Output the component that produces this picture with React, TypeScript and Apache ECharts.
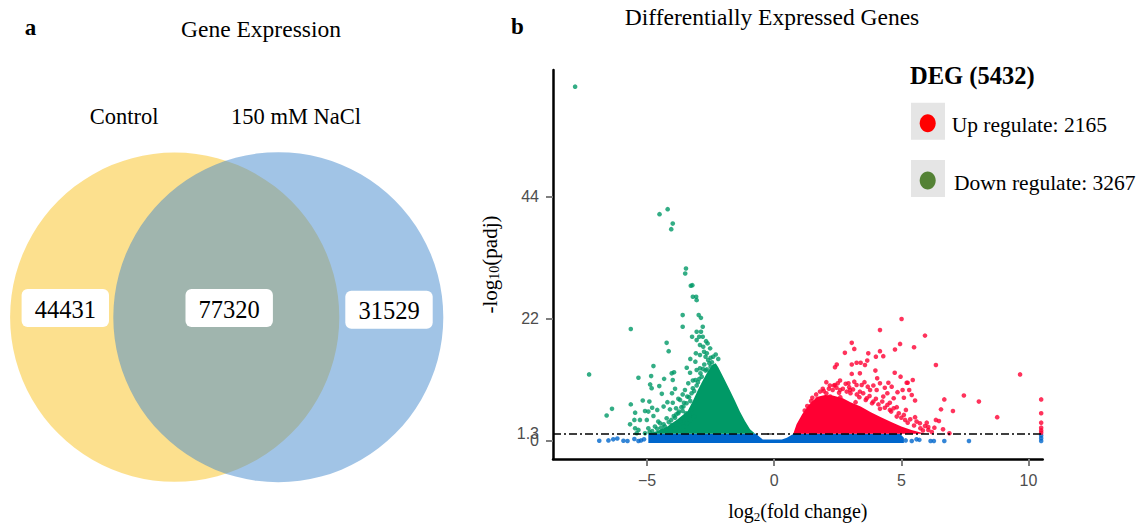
import React, { useEffect, useRef } from 'react';
import * as echarts from 'echarts';

const SERIF = "'Liberation Serif', 'Times New Roman', serif";
const SANS = "'Liberation Sans', Arial, sans-serif";

// ---------- data ----------
const vennSets = ['Control', '150 mM NaCl'];
const vennCounts = [44431, 77320, 31529]; // only Control, shared, only NaCl

const degUp = 2165;
const degDown = 3267;

const xTicks = [-5, 0, 5, 10];
const yTicks = [0, 22, 44];
const padjCut = 1.3; // threshold, also shown as its own y tick

// sparse down-regulated genes (log2FC, -log10 padj)
const downPoints: number[][] = [
  [-7.83, 63.9], [-4.51, 40.9], [-4.19, 41.8], [-3.99, 39.2], [-4.05, 38.2],
  [-3.47, 31.1], [-3.5, 30.2], [-3.28, 28.0], [-3.22, 28.1],
  [-3.2, 26.0], [-3.07, 26.0], [-3.05, 25.4],
  [-3.6, 22.7], [-2.97, 22.7], [-2.88, 22.2],
  [-5.64, 20.2], [-3.6, 20.6], [-2.81, 20.6],
  [-3.05, 19.7], [-2.88, 19.7],
  [-3.23, 18.8], [-2.95, 18.8], [-2.81, 18.8],
  [-4.23, 17.7], [-4.15, 16.2],
  [-3.05, 18.2], [-2.92, 17.3], [-2.79, 17.0], [-2.68, 18.0], [-2.62, 17.6],
  [-3.08, 15.8], [-2.92, 15.5], [-2.76, 16.1], [-2.65, 15.8], [-2.52, 16.7],
  [-7.28, 12.0],
  [-4.75, 13.5], [-5.34, 11.4], [-4.84, 11.7], [-4.88, 10.2],
  [-4.03, 12.2], [-3.94, 12.4], [-3.99, 11.0],
  [-3.44, 13.2], [-3.31, 12.3], [-3.05, 12.8], [-2.92, 13.1],
  [-4.82, 9.5], [-5.17, 7.3], [-4.91, 7.1], [-4.52, 9.9], [-4.42, 8.5], [-4.33, 11.2],
  [-4.02, 8.6], [-3.99, 6.9], [-3.77, 7.6], [-3.51, 9.2], [-3.38, 10.4], [-3.42, 8.0],
  [-5.64, 6.6], [-6.38, 5.8], [-6.59, 4.6],
  [-5.47, 5.1], [-5.5, 3.8], [-5.67, 3.0], [-5.47, 2.3], [-5.34, 2.0],
  [-5.08, 5.4], [-5.01, 3.8], [-4.75, 4.5], [-4.95, 2.3], [-4.69, 2.6], [-4.56, 3.5], [-4.23, 4.1],
  [-4.1, 5.7], [-3.86, 5.9], [-3.7, 7.4], [-3.57, 6.2], [-3.77, 5.0], [-3.47, 5.0],
  [-4.49, 3.2], [-4.3, 2.6], [-4.03, 2.9], [-3.83, 2.3], [-3.57, 2.6], [-3.44, 3.2], [-3.31, 3.8],
  [-5.41, 1.4], [-5.08, 1.4], [-5.28, 3.8], [-4.95, 5.3],
  [-3.2, 9.5], [-3.1, 11.0], [-2.9, 12.2], [-2.75, 13.8], [-2.6, 14.6], [-2.5, 15.0],
  [-2.45, 14.2], [-2.7, 12.7], [-3.0, 10.6], [-3.3, 7.2], [-3.6, 5.4], [-3.9, 4.2],
  [-2.55, 14.0], [-2.4, 15.2], [-2.3, 15.6], [-2.2, 14.8], [-2.5, 13.4], [-2.65, 12.9],
  [-2.8, 13.0], [-2.85, 11.6], [-2.95, 11.2], [-3.05, 10.0], [-3.15, 9.0], [-3.25, 8.6],
  [-3.35, 7.9], [-3.45, 6.8], [-3.55, 6.9], [-3.65, 6.1], [-3.75, 5.3], [-3.85, 4.8],
  [-3.95, 4.5], [-4.05, 3.8], [-4.15, 3.4], [-4.35, 3.0], [-4.45, 2.4], [-4.6, 2.2],
  [-4.8, 1.8], [-4.9, 1.6], [-3.1, 14.3], [-3.3, 14.8], [-2.7, 15.2], [-3.2, 10.9],
  [-3.6, 8.4], [-3.9, 9.4], [-4.2, 7.0], [-4.35, 6.2], [-4.6, 5.6], [-4.8, 6.0],
  [-3.25, 5.7], [-3.15, 4.4], [-3.35, 4.8], [-3.7, 3.5], [-4.1, 1.9], [-4.4, 1.8],
];

// sparse up-regulated genes
const upPoints: number[][] = [
  [5.01, 22.0], [4.16, 20.0], [5.93, 19.0], [4.95, 17.5], [5.5, 16.9], [3.05, 17.7], [3.15, 16.6],
  [2.78, 15.9], [3.7, 15.8], [4.16, 16.2], [4.29, 15.3], [4.0, 15.2], [4.75, 16.5],
  [2.46, 13.8], [2.39, 13.3], [3.05, 13.8], [3.24, 14.1], [3.4, 14.1], [3.57, 13.7], [3.66, 14.5],
  [6.36, 13.7], [9.67, 12.0],
  [3.98, 12.7], [4.05, 11.3], [3.05, 12.1], [3.37, 12.2],
  [4.74, 12.3], [4.97, 11.6], [5.21, 10.5], [5.45, 11.0],
  [2.59, 10.9], [2.81, 10.3], [2.95, 9.7], [3.15, 10.7],
  [1.91, 9.4], [2.19, 10.0], [2.35, 10.0],
  [5.31, 9.2], [5.41, 8.3], [5.54, 7.3],
  [6.69, 7.5], [7.46, 8.2], [8.05, 7.1], [8.77, 4.3], [7.03, 5.4], [6.56, 5.7], [6.48, 3.6],
  [6.64, 2.1], [6.89, 1.4], [6.0, 3.3], [6.06, 2.5],
  [2.39, 10.1], [2.92, 10.4], [3.24, 10.1], [3.44, 10.1], [3.68, 9.8], [4.16, 10.4], [4.49, 10.5],
  [4.62, 9.8], [5.25, 10.5], [5.05, 9.2], [4.45, 8.6],
  [2.59, 9.2], [2.98, 9.2], [3.37, 8.9], [3.77, 9.2], [4.03, 9.2], [3.64, 7.7], [3.9, 7.1],
  [4.29, 8.0], [4.55, 6.9], [4.82, 6.1], [4.16, 5.8], [4.55, 5.6], [4.82, 4.4], [5.18, 5.6],
  [5.15, 3.8], [5.54, 4.3], [5.73, 3.2], [5.93, 2.7], [6.06, 2.0], [6.36, 3.8],
  [1.5, 7.8], [1.65, 8.4], [1.8, 8.9], [1.95, 9.0], [2.05, 8.6], [2.15, 9.4], [2.3, 9.2],
  [2.45, 9.6], [2.55, 8.7], [2.7, 9.4], [2.85, 8.9], [3.0, 8.6], [3.1, 9.3], [3.25, 8.4],
  [3.35, 7.9], [3.5, 8.6], [3.6, 7.4], [3.75, 8.1], [3.85, 6.8], [4.0, 7.6], [4.1, 6.6],
  [4.25, 7.1], [4.35, 6.0], [4.45, 6.5], [4.6, 5.3], [4.7, 5.9], [4.9, 5.0], [5.0, 4.2],
  [5.1, 4.7], [5.25, 3.3], [5.35, 3.9], [5.5, 2.8], [5.6, 3.5], [5.75, 2.3], [5.85, 1.9],
  [6.2, 1.6], [6.3, 2.4], [2.2, 8.0], [2.6, 7.9], [3.2, 7.0], [1.7, 7.6], [1.3, 6.3],
  [1.45, 7.2], [1.2, 5.5], [2.05, 10.6], [2.5, 10.4], [3.55, 10.6], [3.9, 10.0], [4.35, 9.6],
  [4.85, 8.8], [5.1, 7.8], [4.7, 7.7],
  [10.5, 7.5], [10.5, 5.0], [10.5, 3.3], [10.5, 2.4], [10.5, 1.9], [10.5, 1.5],
];

// sparse non-significant genes
const nsPoints: number[][] = [
  [-6.88, 0.05], [-6.52, 0.1], [-6.33, 0.3], [-6.17, 0.45], [-5.93, 0.05], [-5.77, 0.0],
  [-5.5, 0.35], [-5.34, 0.0], [-5.24, 0.1], [-5.12, 0.3],
  [5.17, 0.1], [5.41, 0.0], [5.6, 0.3], [5.71, 0.2], [6.15, 0.0], [6.28, 0.0], [6.69, 0.0], [7.66, 0.0],
  [10.5, 1.0], [10.5, 0.5], [10.5, 0.0],
];

// outlines of the saturated point clouds
const downCore: number[][] = [
  [-4.95, 1.3], [-4.6, 1.8], [-4.2, 2.6], [-3.8, 3.9], [-3.4, 5.4], [-3.2, 7.2], [-3.0, 9.2],
  [-2.8, 11.0], [-2.6, 12.6], [-2.42, 13.8], [-2.3, 14.0], [-2.2, 13.3], [-2.0, 11.5],
  [-1.75, 9.2], [-1.55, 7.3], [-1.35, 5.3], [-1.15, 3.6], [-0.95, 2.1], [-0.75, 1.3],
];
const upCore: number[][] = [
  [0.75, 1.3], [0.88, 3.0], [1.1, 4.8], [1.34, 6.4], [1.55, 7.4], [1.75, 8.0], [2.0, 8.3],
  [2.3, 8.2], [2.7, 7.7], [3.0, 7.0], [3.4, 6.2], [3.8, 5.2], [4.2, 4.3], [4.6, 3.4],
  [5.0, 2.6], [5.4, 2.0], [5.8, 1.5], [6.0, 1.3],
];
const nsCore: number[][] = [
  [-4.95, 1.3], [-0.72, 1.3], [-0.58, 0.75], [-0.45, 0.25], [0.3, 0.25], [0.5, 0.6], [0.68, 1.1],
  [0.78, 1.3], [4.95, 1.3], [5.1, 0.6], [5.1, -0.35], [-4.95, -0.35],
];

// ---------- styling ----------
const RED = '#ff0033';
const GREEN = '#009966';
const BLUE = '#0066cc';

function cloud(points: number[][], color: string, z: number) {
  return {
    type: 'custom',
    coordinateSystem: 'cartesian2d',
    clip: true,
    silent: true,
    z,
    data: [points[0]],
    renderItem: (_p: any, api: any) => ({
      type: 'polygon',
      shape: { points: points.map((p) => api.coord(p)) },
      style: { fill: color },
    }),
  };
}

function dots(points: number[][], color: string, z: number, extra: any = {}) {
  return {
    type: 'scatter',
    data: points,
    symbol: 'circle',
    symbolSize: 4.6,
    itemStyle: { color },
    silent: true,
    clip: true,
    z,
    ...extra,
  };
}

const yLabelStyle = {
  hideOverlap: false,
  showMinLabel: true,
  showMaxLabel: true,
  color: '#4d4d4d',
  fontFamily: SANS,
  fontSize: 16,
  margin: 14,
  formatter: (v: number) => String(v),
};

function buildOption() {
  const graphic: any[] = [];
  // panel labels & titles
  graphic.push({ type: 'text', x: 30.5, y: 27, style: { text: 'a', fontFamily: SERIF, fontWeight: 'bold', fontSize: 23, fill: '#000', align: 'center', verticalAlign: 'middle' } });
  graphic.push({ type: 'text', x: 261, y: 29, style: { text: 'Gene Expression', fontFamily: SERIF, fontSize: 23.5, fill: '#000', align: 'center', verticalAlign: 'middle' } });
  graphic.push({ type: 'text', x: 517.5, y: 26, style: { text: 'b', fontFamily: SERIF, fontWeight: 'bold', fontSize: 23, fill: '#000', align: 'center', verticalAlign: 'middle' } });
  graphic.push({ type: 'text', x: 772, y: 17, style: { text: 'Differentially Expressed Genes', fontFamily: SERIF, fontSize: 23.5, fill: '#000', align: 'center', verticalAlign: 'middle' } });

  // venn
  graphic.push({ type: 'circle', shape: { cx: 174.7, cy: 317.2, r: 164.6 }, style: { fill: 'rgba(249,193,29,0.5)' }, z: 1 });
  graphic.push({ type: 'circle', shape: { cx: 278.3, cy: 317.2, r: 165 }, style: { fill: 'rgba(67,137,205,0.5)' }, z: 2 });
  graphic.push({ type: 'text', x: 124, y: 116, style: { text: vennSets[0], fontFamily: SERIF, fontSize: 22.5, fill: '#000', align: 'center', verticalAlign: 'middle' } });
  graphic.push({ type: 'text', x: 296, y: 116, style: { text: vennSets[1], fontFamily: SERIF, fontSize: 22.5, fill: '#000', align: 'center', verticalAlign: 'middle' } });
  const boxCenters = [[65.3, 308], [229.2, 308], [389, 309.7]];
  vennCounts.forEach((v, i) => {
    const [cx, cy] = boxCenters[i];
    graphic.push({ type: 'rect', shape: { x: cx - 43.7, y: cy - 19, width: 87.4, height: 38, r: 6 }, style: { fill: '#fff' }, z: 3 });
    graphic.push({ type: 'text', x: cx, y: cy + 1, z: 4, style: { text: String(v), fontFamily: SERIF, fontSize: 24.5, fill: '#000', align: 'center', verticalAlign: 'middle' } });
  });

  // DEG legend
  graphic.push({ type: 'text', x: 910, y: 75, style: { text: `DEG (${degUp + degDown})`, fontFamily: SERIF, fontWeight: 'bold', fontSize: 24.5, fill: '#000', align: 'left', verticalAlign: 'middle' } });
  const legendRows = [
    { y: 102.7, color: '#ff0000', text: `Up regulate: ${degUp}`, tx: 951.7 },
    { y: 160, color: '#548235', text: `Down regulate: ${degDown}`, tx: 954 },
  ];
  legendRows.forEach((r) => {
    graphic.push({ type: 'rect', shape: { x: 911, y: r.y, width: 34, height: 37 }, style: { fill: '#e5e5e5' } });
    graphic.push({ type: 'ellipse', shape: { cx: 927.7, cy: r.y + 20.5, rx: 8, ry: 9 }, style: { fill: r.color } });
    graphic.push({ type: 'text', x: r.tx, y: r.y + 22.5, style: { text: r.text, fontFamily: SERIF, fontSize: 21.5, fill: '#000', align: 'left', verticalAlign: 'middle' } });
  });

  return {
    animation: false,
    backgroundColor: '#ffffff',
    grid: { left: 553, top: 70, width: 489.7, height: 389, containLabel: false, outerBoundsMode: 'none' },
    xAxis: {
      type: 'value',
      min: -8.7,
      max: 10.56,
      splitLine: { show: false },
      axisLine: { show: true, onZero: false, lineStyle: { color: '#000', width: 2.5 } },
      axisTick: { show: true, customValues: xTicks, length: 7, lineStyle: { color: '#7f7f7f', width: 2 } },
      axisLabel: {
        customValues: xTicks,
        hideOverlap: false,
        showMinLabel: true,
        showMaxLabel: true,
        color: '#4d4d4d',
        fontFamily: SANS,
        fontSize: 16,
        margin: 13,
        formatter: (v: number) => (v < 0 ? '\u2212' + Math.abs(v) : String(v)),
      },
      name: 'log{s|2}(fold change)',
      nameLocation: 'middle',
      nameGap: 40,
      nameTextStyle: {
        fontFamily: SERIF,
        fontSize: 20,
        color: '#000',
        rich: { s: { fontFamily: SERIF, fontSize: 13, color: '#000', padding: [11, 0, 0, 0] } },
      },
    },
    yAxis: [
      {
        type: 'value',
        position: 'left',
        min: -3.25,
        max: 66.9,
        splitLine: { show: false },
        axisLine: { show: true, onZero: false, lineStyle: { color: '#000', width: 2.5 } },
        axisTick: { show: true, customValues: yTicks, length: 7, lineStyle: { color: '#7f7f7f', width: 2 } },
        axisLabel: { ...yLabelStyle, customValues: yTicks },
        name: '-log{s|10}(padj)',
        nameLocation: 'middle',
        nameGap: 52,
        nameTextStyle: {
          fontFamily: SERIF,
          fontSize: 21,
          color: '#000',
          rich: { s: { fontFamily: SERIF, fontSize: 14, color: '#000', padding: [9, 0, 0, 0] } },
        },
      },
      {
        type: 'value',
        position: 'left',
        offset: 0,
        min: -3.25,
        max: 66.9,
        splitLine: { show: false },
        axisLine: { show: false },
        axisTick: { show: true, customValues: [padjCut], length: 7, lineStyle: { color: '#7f7f7f', width: 2 } },
        axisLabel: { ...yLabelStyle, customValues: [padjCut] },
      },
    ],
    graphic,
    series: [
      cloud(nsCore, BLUE, 1),
      dots(nsPoints, BLUE, 2, {
        markLine: {
          silent: true,
          symbol: ['none', 'none'],
          label: { show: false },
          lineStyle: { color: '#000', width: 1.5, type: [8, 3, 2, 3] },
          data: [{ yAxis: padjCut }],
          z: 10,
        },
      }),
      cloud(downCore, GREEN, 3),
      cloud(upCore, RED, 3),
      dots(downPoints, GREEN, 4),
      dots(upPoints, RED, 4),
    ],
  };
}

export default function App() {
  const ref = useRef<HTMLDivElement>(null);
  useEffect(() => {
    if (!ref.current) return;
    const chart = echarts.init(ref.current, null, { renderer: 'svg' });
    chart.setOption(buildOption() as any);
    return () => chart.dispose();
  }, []);
  return (
    <div
      ref={ref}
      style={{ position: 'fixed', left: 0, top: 0, width: 1148, height: 523, background: '#fff' }}
    />
  );
}
